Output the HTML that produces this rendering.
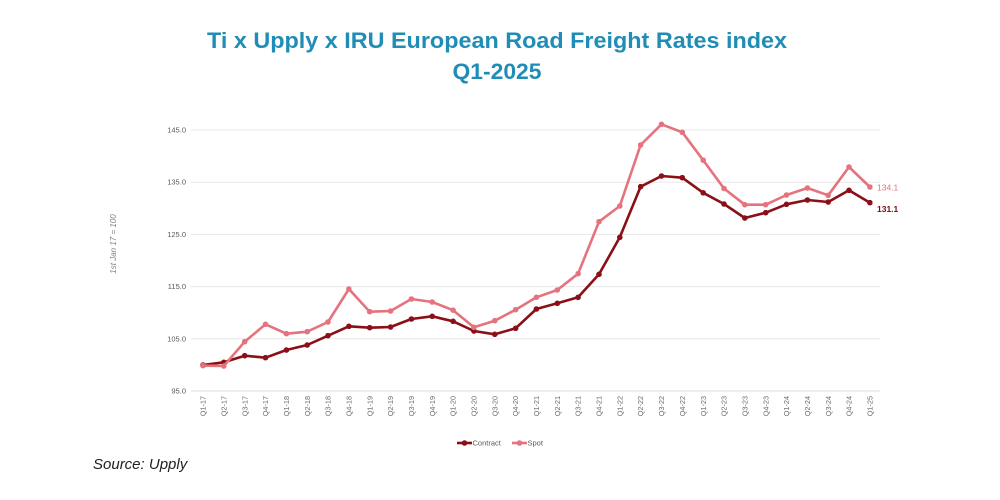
<!DOCTYPE html>
<html>
<head>
<meta charset="utf-8">
<style>
  html, body { margin:0; padding:0; background:#ffffff; }
  body { width:1000px; height:500px; overflow:hidden; }
  svg { display:block; }
</style>
</head>
<body>
<svg width="1000" height="500" viewBox="0 0 1000 500" xmlns="http://www.w3.org/2000/svg">
  <defs>
    <marker id="mc" viewBox="0 0 10 10" refX="5" refY="5" markerWidth="5.6" markerHeight="5.6" markerUnits="userSpaceOnUse">
      <circle cx="5" cy="5" r="5" fill="#8b0f16"/>
    </marker>
    <marker id="ms" viewBox="0 0 10 10" refX="5" refY="5" markerWidth="5.6" markerHeight="5.6" markerUnits="userSpaceOnUse">
      <circle cx="5" cy="5" r="5" fill="#e5737e"/>
    </marker>
  </defs>
  <rect width="1000" height="500" fill="#ffffff"/>

  <!-- Title -->
  <g font-family="'Liberation Sans', sans-serif" font-weight="bold" fill="#1f8db5" text-anchor="middle">
    <text x="497" y="48" font-size="22" textLength="580" lengthAdjust="spacingAndGlyphs">Ti x Upply x IRU European Road Freight Rates index</text>
    <text x="497" y="79" font-size="22" textLength="89" lengthAdjust="spacingAndGlyphs">Q1-2025</text>
  </g>

  <!-- Gridlines -->
  <g stroke="#e8e8e8" stroke-width="1">
    <line x1="191" y1="130" x2="880" y2="130"/>
    <line x1="191" y1="182.2" x2="880" y2="182.2"/>
    <line x1="191" y1="234.4" x2="880" y2="234.4"/>
    <line x1="191" y1="286.6" x2="880" y2="286.6"/>
    <line x1="191" y1="338.8" x2="880" y2="338.8"/>
  </g>
  <line x1="191" y1="391" x2="880" y2="391" stroke="#dcdcdc" stroke-width="1"/>

  <!-- Y labels -->
  <g font-family="'Liberation Sans', sans-serif" font-size="7.5" fill="#595959" text-anchor="end">
    <text x="186" y="132.5">145.0</text>
    <text x="186" y="184.7">135.0</text>
    <text x="186" y="236.9">125.0</text>
    <text x="186" y="289.1">115.0</text>
    <text x="186" y="341.3">105.0</text>
    <text x="186" y="393.5">95.0</text>
  </g>

  <!-- Y axis title -->
  <text transform="translate(116,244) rotate(-90)" font-family="'Liberation Sans', sans-serif" font-style="italic" font-size="8" fill="#808080" text-anchor="middle">1st Jan 17 = 100</text>

  <!-- X labels -->
  <g font-family="'Liberation Sans', sans-serif" font-size="7.3" fill="#6a6a6a" text-anchor="end">
    <text transform="translate(205.6,396) rotate(-90)">Q1-17</text>
    <text transform="translate(226.4,396) rotate(-90)">Q2-17</text>
    <text transform="translate(247.3,396) rotate(-90)">Q3-17</text>
    <text transform="translate(268.1,396) rotate(-90)">Q4-17</text>
    <text transform="translate(289.0,396) rotate(-90)">Q1-18</text>
    <text transform="translate(309.8,396) rotate(-90)">Q2-18</text>
    <text transform="translate(330.6,396) rotate(-90)">Q3-18</text>
    <text transform="translate(351.5,396) rotate(-90)">Q4-18</text>
    <text transform="translate(372.3,396) rotate(-90)">Q1-19</text>
    <text transform="translate(393.2,396) rotate(-90)">Q2-19</text>
    <text transform="translate(414.0,396) rotate(-90)">Q3-19</text>
    <text transform="translate(434.8,396) rotate(-90)">Q4-19</text>
    <text transform="translate(455.7,396) rotate(-90)">Q1-20</text>
    <text transform="translate(476.5,396) rotate(-90)">Q2-20</text>
    <text transform="translate(497.4,396) rotate(-90)">Q3-20</text>
    <text transform="translate(518.2,396) rotate(-90)">Q4-20</text>
    <text transform="translate(539.0,396) rotate(-90)">Q1-21</text>
    <text transform="translate(559.9,396) rotate(-90)">Q2-21</text>
    <text transform="translate(580.7,396) rotate(-90)">Q3-21</text>
    <text transform="translate(601.6,396) rotate(-90)">Q4-21</text>
    <text transform="translate(622.4,396) rotate(-90)">Q1-22</text>
    <text transform="translate(643.2,396) rotate(-90)">Q2-22</text>
    <text transform="translate(664.1,396) rotate(-90)">Q3-22</text>
    <text transform="translate(684.9,396) rotate(-90)">Q4-22</text>
    <text transform="translate(705.8,396) rotate(-90)">Q1-23</text>
    <text transform="translate(726.6,396) rotate(-90)">Q2-23</text>
    <text transform="translate(747.4,396) rotate(-90)">Q3-23</text>
    <text transform="translate(768.3,396) rotate(-90)">Q4-23</text>
    <text transform="translate(789.1,396) rotate(-90)">Q1-24</text>
    <text transform="translate(810.0,396) rotate(-90)">Q2-24</text>
    <text transform="translate(830.8,396) rotate(-90)">Q3-24</text>
    <text transform="translate(851.6,396) rotate(-90)">Q4-24</text>
    <text transform="translate(872.5,396) rotate(-90)">Q1-25</text>
  </g>

  <!-- Contract series -->
  <polyline fill="none" stroke="#8b0f16" stroke-width="2.6" stroke-linejoin="round"
    marker-start="url(#mc)" marker-mid="url(#mc)" marker-end="url(#mc)"
    points="203.0,365 223.8,362.3 244.7,355.7 265.5,357.7 286.4,350 307.2,345 328.0,335.7 348.9,326.3 369.7,327.7 390.6,327 411.4,319 432.2,316.3 453.1,321.3 473.9,331 494.8,334.3 515.6,328.3 536.4,309 557.3,303.3 578.1,297.3 599.0,274.3 619.8,237.3 640.6,186.7 661.5,176 682.3,177.7 703.2,192.8 724.0,204 744.8,218 765.7,212.7 786.5,204.3 807.4,200 828.2,202 849.0,190.3 869.9,202.7"/>

  <!-- Spot series -->
  <polyline fill="none" stroke="#e5737e" stroke-width="2.6" stroke-linejoin="round"
    marker-start="url(#ms)" marker-mid="url(#ms)" marker-end="url(#ms)"
    points="203.0,365.7 223.8,366 244.7,341.7 265.5,324.3 286.4,333.7 307.2,331.7 328.0,322 348.9,289 369.7,311.7 390.6,311 411.4,299 432.2,302 453.1,310.2 473.9,327.3 494.8,320.7 515.6,309.7 536.4,297.3 557.3,290 578.1,273.7 599.0,221.7 619.8,206 640.6,145 661.5,124.3 682.3,132.3 703.2,160.2 724.0,188.5 744.8,204.7 765.7,204.7 786.5,195 807.4,188 828.2,195.3 849.0,167 869.9,187"/>

  <!-- End labels -->
  <g font-family="'Liberation Sans', sans-serif" font-size="8.5">
    <text x="877" y="190.5" fill="#dc7383">134.1</text>
    <text x="877" y="212" fill="#7a0a12" font-weight="bold">131.1</text>
  </g>

  <!-- Legend -->
  <g font-family="'Liberation Sans', sans-serif" font-size="7.5" fill="#595959">
    <line x1="457" y1="443" x2="472" y2="443" stroke="#8b0f16" stroke-width="2.6"/>
    <circle cx="464.5" cy="443" r="2.8" fill="#8b0f16"/>
    <text x="472.5" y="445.7">Contract</text>
    <line x1="512" y1="443" x2="527" y2="443" stroke="#e5737e" stroke-width="2.6"/>
    <circle cx="519.5" cy="443" r="2.8" fill="#e5737e"/>
    <text x="527.5" y="445.7">Spot</text>
  </g>

  <!-- Source -->
  <text x="93" y="469" font-family="'Liberation Sans', sans-serif" font-style="italic" font-size="15" fill="#222222">Source: Upply</text>
</svg>
</body>
</html>
